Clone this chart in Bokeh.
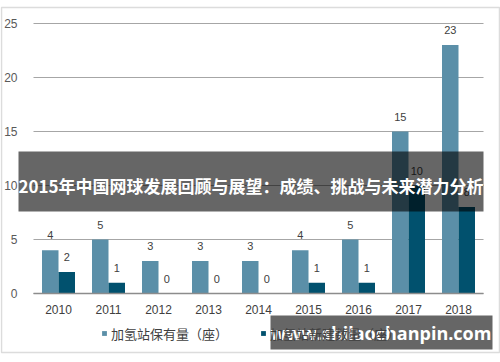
from bokeh.plotting import figure
from bokeh.models import (ColumnDataSource, Range1d, BoxAnnotation,
                          Label, Legend, LegendItem, FixedTicker)
from bokeh.transform import dodge
from bokeh.core.properties import value
from bokeh.embed import file_html
from bokeh.resources import INLINE

years = ["2010", "2011", "2012", "2013", "2014", "2015", "2016", "2017", "2018"]
stock = [4, 5, 3, 3, 3, 4, 5, 15, 23]
new_built = [2, 1, 0, 0, 0, 1, 1, 10, 8]
series_names = ["加氢站保有量（座）", "加氢站新建数量（座）"]
y_ticks = [0, 5, 10, 15, 20, 25]
title_text = "2015年中国网球发展回顾与展望：成绩、挑战与未来潜力分析"
watermark_text = "www.shilaochanpin.com"

c_light = "#5b8fa8"
c_dark = "#01516e"

# ---- layout geometry (pixels) ----
W, H = 500, 362
PLOT_L, PLOT_R, PLOT_T, PLOT_B = 33, 483, 23, 293   # bar area
Y_MAX = 25
n = len(years)
px_per_x = (PLOT_R - PLOT_L) / n
px_per_y = (PLOT_B - PLOT_T) / Y_MAX


def dx(px):
    return (px - PLOT_L) / px_per_x


def dy(py):
    return (PLOT_B - py) / px_per_y


centers = [i + 0.5 for i in range(n)]
src = ColumnDataSource(dict(
    x=centers, year=years, stock=stock, new_built=new_built,
    stock_lbl=[str(v) for v in stock], new_lbl=[str(v) for v in new_built],
))
grid_src = ColumnDataSource(dict(y=y_ticks))

p = figure(x_range=Range1d(dx(0), dx(W)), y_range=Range1d(dy(H), dy(0)),
           width=W, height=H, output_backend="svg", toolbar_location=None,
           min_border_left=0, min_border_right=0, min_border_top=0, min_border_bottom=0)
p.outline_line_color = None
p.background_fill_color = "white"
p.border_fill_color = "white"
p.xgrid.visible = False
p.ygrid.visible = False

# gridlines across the bar area only
p.segment(x0=0, x1=n, y0="y", y1="y", source=grid_src,
          line_color="#a6a6a6", line_width=1.2)

r1 = p.vbar(x=dodge("x", -0.165), top="stock", width=0.33,
            source=src, fill_color=c_light, line_color=None)
r2 = p.vbar(x=dodge("x", 0.165), top="new_built", width=0.33,
            source=src, fill_color=c_dark, line_color=None)

lbl_font = value("Liberation Sans")
p.text(x=dodge("x", -0.165), y="stock", text="stock_lbl", source=src,
       text_align="center", text_baseline="middle", y_offset=-15,
       text_font=lbl_font, text_font_size="11px", text_color="#404040")
p.text(x=dodge("x", 0.165), y="new_built", text="new_lbl", source=src,
       text_align="center", text_baseline="middle", y_offset=-15,
       text_font=lbl_font, text_font_size="11px", text_color="#404040")

# axes drawn at the bar area's edges
p.yaxis.fixed_location = 0
p.yaxis.ticker = FixedTicker(ticks=y_ticks)
p.yaxis.bounds = (0, Y_MAX)
p.yaxis.axis_line_color = None
p.yaxis.major_tick_line_color = None
p.yaxis.minor_tick_line_color = None
p.yaxis.major_label_standoff = 10
p.yaxis.major_label_text_font = "Liberation Sans"
p.yaxis.major_label_text_font_size = "12px"
p.yaxis.major_label_text_color = "#595959"

p.xaxis.fixed_location = 0
p.xaxis.ticker = FixedTicker(ticks=centers)
p.xaxis.major_label_overrides = {c: y for c, y in zip(centers, years)}
p.xaxis.bounds = (0, n)
p.xaxis.axis_line_color = "#8c8c8c"
p.xaxis.axis_line_width = 1.5
p.xaxis.major_tick_line_color = None
p.xaxis.minor_tick_line_color = None
p.xaxis.major_label_standoff = 5
p.xaxis.major_label_text_font = "Liberation Sans"
p.xaxis.major_label_text_font_size = "12px"
p.xaxis.major_label_text_color = "#404040"

legend = Legend(items=[LegendItem(label=series_names[0], renderers=[r1]),
                       LegendItem(label=series_names[1], renderers=[r2])],
                location=(101, H - 343), orientation="horizontal",
                glyph_width=6, glyph_height=6, label_standoff=4, spacing=32,
                padding=0, margin=0, label_height=20,
                label_text_font="Noto Sans CJK SC", label_text_font_size="13px",
                label_text_color="#404040",
                border_line_color=None, background_fill_alpha=0)
p.add_layout(legend, "center")

# outer frame of the chart
p.add_layout(BoxAnnotation(left=dx(1), right=dx(499), top=dy(7), bottom=dy(352),
                           fill_alpha=0, line_color="#8c8c8c", line_width=1.5))

# title banner
p.add_layout(BoxAnnotation(left=dx(18), right=dx(483), top=dy(151), bottom=dy(211),
                           fill_color="black", fill_alpha=0.6, line_color=None))
p.add_layout(Label(x=dx(250.5), y=dy(185), text=title_text, text_align="center",
                   text_baseline="middle", text_color="white",
                   text_font="Noto Sans CJK SC", text_font_style="bold",
                   text_font_size="17px"))

# watermark
p.add_layout(BoxAnnotation(left=dx(270), right=dx(492), top=dy(315), bottom=dy(349),
                           fill_color="black", fill_alpha=0.6, line_color=None))
p.add_layout(Label(x=dx(380.5), y=dy(332.5), text=watermark_text, text_align="center",
                   text_baseline="middle", text_color="white",
                   text_font="Open Sans", text_font_style="bold",
                   text_font_size="18px"))

open("out.html", "w").write(file_html(p, INLINE))
